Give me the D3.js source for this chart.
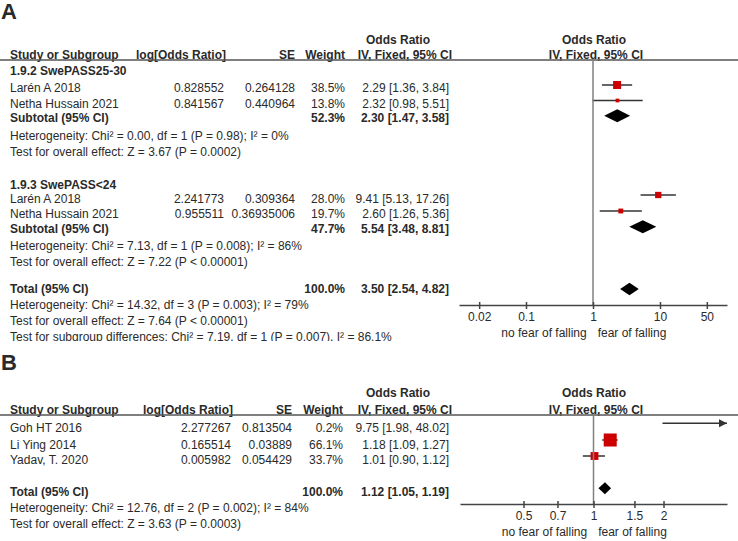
<!DOCTYPE html>
<html><head><meta charset="utf-8">
<script src="https://cdn.jsdelivr.net/npm/d3@7"></script>
<style>
body{margin:0;background:#fff}
svg{display:block}
text{font-family:"Liberation Sans",Arial,Helvetica,sans-serif;fill:#2a2a2a}
</style>
</head><body>
<svg id="chart" width="738" height="541"></svg>
<script>
// ---------------- Panel A data ----------------
const subgroupNamesA = ["1.9.2 SwePASS25-30", "1.9.3 SwePASS<24"];
const studyNamesA = ["Larén A 2018", "Netha Hussain 2021", "Larén A 2018", "Netha Hussain 2021"];
const studyGroupA = [0, 0, 1, 1];
const logOrA = ["0.828552", "0.841567", "2.241773", "0.955511"];
const seA = ["0.264128", "0.440964", "0.309364", "0.36935006"];
const weightA = [38.5, 13.8, 28.0, 19.7];
const orA = [2.29, 2.32, 9.41, 2.60];
const lowerA = [1.36, 0.98, 5.13, 1.26];
const upperA = [3.84, 5.51, 17.26, 5.36];
const subtotalWeightA = [52.3, 47.7];
const subtotalOrA = [2.30, 5.54];
const subtotalLowerA = [1.47, 3.48];
const subtotalUpperA = [3.58, 8.81];
const heterogeneityA = ["Heterogeneity: Chi² = 0.00, df = 1 (P = 0.98); I² = 0%",
                        "Heterogeneity: Chi² = 7.13, df = 1 (P = 0.008); I² = 86%"];
const overallEffectA = ["Test for overall effect: Z = 3.67 (P = 0.0002)",
                        "Test for overall effect: Z = 7.22 (P < 0.00001)"];
const totalWeightA = 100.0, totalOrA = 3.50, totalLowerA = 2.54, totalUpperA = 4.82;
const totalNotesA = ["Heterogeneity: Chi² = 14.32, df = 3 (P = 0.003); I² = 79%",
                     "Test for overall effect: Z = 7.64 (P < 0.00001)",
                     "Test for subgroup differences: Chi² = 7.19, df = 1 (P = 0.007), I² = 86.1%"];
const tickValuesA = [0.02, 0.1, 1, 10, 50];
const tickLabelsA = ["0.02", "0.1", "1", "10", "50"];

// ---------------- Panel B data ----------------
const studyNamesB = ["Goh HT 2016", "Li Ying 2014", "Yadav, T. 2020"];
const logOrB = ["2.277267", "0.165514", "0.005982"];
const seB = ["0.813504", "0.03889", "0.054429"];
const weightB = [0.2, 66.1, 33.7];
const orB = [9.75, 1.18, 1.01];
const lowerB = [1.98, 1.09, 0.90];
const upperB = [48.02, 1.27, 1.12];
const totalWeightB = 100.0, totalOrB = 1.12, totalLowerB = 1.05, totalUpperB = 1.19;
const totalNotesB = ["Heterogeneity: Chi² = 12.76, df = 2 (P = 0.002); I² = 84%",
                     "Test for overall effect: Z = 3.63 (P = 0.0003)"];
const tickValuesB = [0.5, 0.7, 1, 1.5, 2];
const tickLabelsB = ["0.5", "0.7", "1", "1.5", "2"];

const favourLabels = ["no fear of falling", "fear of falling"];
const headerLabels = ["Study or Subgroup", "log[Odds Ratio]", "SE", "Weight", "Odds Ratio", "IV, Fixed, 95% CI"];

// ---------------- helpers ----------------
const svg = d3.select("#chart");
const FS = 12;
function txt(g, x, y, s, anchor, bold, size) {
  return g.append("text").attr("x", x).attr("y", y)
    .attr("text-anchor", anchor || "start")
    .attr("font-weight", bold ? "bold" : "normal")
    .attr("font-size", size || FS).text(s);
}
const fmtCI = (o, l, u) => `${o.toFixed(2)} [${l.toFixed(2)}, ${u.toFixed(2)}]`;
const fmtW = w => w.toFixed(1) + "%";

function drawHeader(g, yTop, yLine, col) {
  txt(g, col.ci - 51, yTop, headerLabels[4], "middle", true);
  txt(g, col.ci + 3, yLine - 1.5, headerLabels[5], "end", true);
  txt(g, 594, yTop, headerLabels[4], "middle", true);
  txt(g, 596, yLine - 1.5, headerLabels[5], "middle", true);
  txt(g, col.name, yLine - 1.5, headerLabels[0], "start", true);
  txt(g, col.logOr + 2, yLine - 1.5, headerLabels[1], "end", true);
  txt(g, col.se, yLine - 1.5, headerLabels[2], "end", true);
  txt(g, col.weight, yLine - 1.5, headerLabels[3], "end", true);
  g.append("line").attr("x1", 0).attr("x2", 738).attr("y1", yLine).attr("y2", yLine)
    .attr("stroke", "#555").attr("stroke-width", 1.5);
}

function drawAxis(g, x, yAxis, vals, labels, yTop) {
  g.append("line").attr("x1", x(1)).attr("x2", x(1)).attr("y1", yTop).attr("y2", yAxis)
    .attr("stroke", "#808080").attr("stroke-width", 1.5);
  const ax = d3.axisBottom(x).tickValues(vals)
    .tickFormat((d, i) => labels[i]).tickSizeOuter(0).tickSizeInner(4);
  const a = g.append("g").attr("transform", `translate(0,${yAxis})`).call(ax);
  a.select(".domain").attr("stroke", "#444").attr("stroke-width", 1.5);
  a.selectAll(".tick line").attr("y1", -3).attr("stroke", "#444").attr("stroke-width", 1.5);
  a.selectAll(".tick text").attr("y", 16).attr("dy", 0)
    .attr("font-size", FS).attr("font-family", '"Liberation Sans",Arial,sans-serif')
    .attr("fill", "#2a2a2a");
  txt(g, x(1) - 49, yAxis + 32, favourLabels[0], "middle");
  txt(g, x(1) + 39, yAxis + 32, favourLabels[1], "middle");
}

function study(g, x, sizeScale, y, o, l, u, w) {
  const [r0, r1] = x.range();
  const [d0, d1] = x.domain();
  const xl = Math.max(r0, x(Math.max(l, d0)));
  const xu = Math.min(r1, x(Math.min(u, d1)));
  g.append("line").attr("x1", xl).attr("x2", xu).attr("y1", y).attr("y2", y)
    .attr("stroke", "#333").attr("stroke-width", 1.5);
  if (u > d1) {
    g.append("path").attr("d", `M${r1},${y} l-8,-4 l0,8 z`).attr("fill", "#333");
  }
  if (o >= d0 && o <= d1) {
    const s = sizeScale(w);
    g.append("rect").attr("x", x(o) - s / 2).attr("y", y - s / 2)
      .attr("width", s).attr("height", s).attr("fill", "#cc0000");
  }
}
function diamond(g, x, y, o, l, u, h) {
  g.append("path")
    .attr("d", `M${x(l)},${y} L${x(o)},${y - h / 2} L${x(u)},${y} L${x(o)},${y + h / 2} Z`)
    .attr("fill", "#000");
}

// ---------------- Panel A ----------------
const gA = svg.append("g");
txt(gA, 1, 19, "A", "start", true, 22);
const colA = {name: 10, logOr: 224, se: 295, weight: 345, ci: 449};
drawHeader(gA, 44, 60, colA);
const xA = d3.scaleLog().domain([0.01, 100]).range([459, 727]);
const sizeA = d3.scalePow().exponent(0.75).domain([0, d3.max(weightA)]).range([0, 8]);

const headingY = [75.3, 189.3];
const studyTextY = [92.3, 108.3, 203.3, 218.3];
const studyMarkY = [85, 100.5, 195, 211];
const subtotalTextY = [122.3, 233.3];
const subtotalMarkY = [115.7, 226.7];
const hetY = [140.3, 250.3];
const effY = [156.3, 266.3];

subgroupNamesA.forEach((name, gi) => {
  txt(gA, colA.name, headingY[gi], name, "start", true);
  txt(gA, colA.name, subtotalTextY[gi], "Subtotal (95% CI)", "start", true);
  txt(gA, colA.weight, subtotalTextY[gi], fmtW(subtotalWeightA[gi]), "end", true);
  txt(gA, colA.ci, subtotalTextY[gi], fmtCI(subtotalOrA[gi], subtotalLowerA[gi], subtotalUpperA[gi]), "end", true);
  txt(gA, colA.name, hetY[gi], heterogeneityA[gi]);
  txt(gA, colA.name, effY[gi], overallEffectA[gi]);
  diamond(gA, xA, subtotalMarkY[gi], subtotalOrA[gi], subtotalLowerA[gi], subtotalUpperA[gi], 13);
});
studyNamesA.forEach((name, i) => {
  const y = studyTextY[i];
  txt(gA, colA.name, y, name);
  txt(gA, colA.logOr, y, logOrA[i], "end");
  txt(gA, colA.se, y, seA[i], "end");
  txt(gA, colA.weight, y, fmtW(weightA[i]), "end");
  txt(gA, colA.ci, y, fmtCI(orA[i], lowerA[i], upperA[i]), "end");
  study(gA, xA, sizeA, studyMarkY[i], orA[i], lowerA[i], upperA[i], weightA[i]);
});
txt(gA, colA.name, 293.3, "Total (95% CI)", "start", true);
txt(gA, colA.weight, 293.3, fmtW(totalWeightA), "end", true);
txt(gA, colA.ci, 293.3, fmtCI(totalOrA, totalLowerA, totalUpperA), "end", true);
diamond(gA, xA, 289, totalOrA, totalLowerA, totalUpperA, 12.5);
drawAxis(gA, xA, 305, tickValuesA, tickLabelsA, 60);

svg.append("clipPath").attr("id", "cutA").append("rect")
  .attr("x", 0).attr("y", 0).attr("width", 738).attr("height", 341);
const notesG = gA.append("g").attr("clip-path", "url(#cutA)");
[309.3, 325.3, 340.5].forEach((y, i) => txt(notesG, colA.name, y, totalNotesA[i]));

// ---------------- Panel B ----------------
const gB = svg.append("g");
txt(gB, 1, 370, "B", "start", true, 22);
const colB = {name: 10, logOr: 231, se: 292, weight: 343, ci: 449};
drawHeader(gB, 397, 415, colB);
const xB = d3.scaleLog().domain([1 / 3.75, 3.75]).range([460, 727]);
const sizeB = d3.scalePow().exponent(0.75).domain([0, d3.max(weightB)]).range([0, 13]);
const studyTextYB = [431.8, 448.5, 464.3];
const studyMarkYB = [423.3, 440, 456];
studyNamesB.forEach((name, i) => {
  const y = studyTextYB[i];
  txt(gB, colB.name, y, name);
  txt(gB, colB.logOr, y, logOrB[i], "end");
  txt(gB, colB.se, y, seB[i], "end");
  txt(gB, colB.weight, y, fmtW(weightB[i]), "end");
  txt(gB, colB.ci, y, fmtCI(orB[i], lowerB[i], upperB[i]), "end");
  study(gB, xB, sizeB, studyMarkYB[i], orB[i], lowerB[i], upperB[i], weightB[i]);
});
txt(gB, colB.name, 496, "Total (95% CI)", "start", true);
txt(gB, colB.weight, 496, fmtW(totalWeightB), "end", true);
txt(gB, colB.ci, 496, fmtCI(totalOrB, totalLowerB, totalUpperB), "end", true);
diamond(gB, xB, 488.3, totalOrB, totalLowerB, totalUpperB, 12);
txt(gB, colB.name, 512.3, totalNotesB[0]);
txt(gB, colB.name, 528.3, totalNotesB[1]);
drawAxis(gB, xB, 504, tickValuesB, tickLabelsB, 415);
</script>
</body></html>
